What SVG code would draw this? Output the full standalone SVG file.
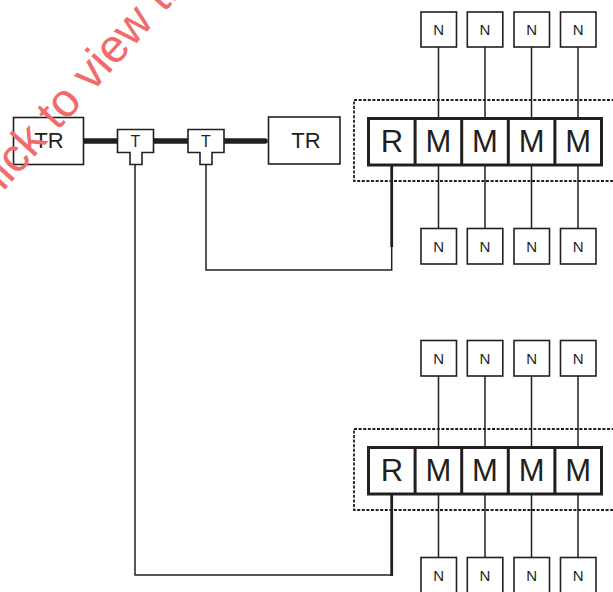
<svg xmlns="http://www.w3.org/2000/svg" width="613" height="592" viewBox="0 0 613 592">
<style>
  .box { fill: #fff; stroke: #231f20; stroke-width: 1.6; }
  .mod { fill: #fff; stroke: #231f20; stroke-width: 3; }
  .dash { fill: none; stroke: #231f20; stroke-width: 1.8; stroke-dasharray: 3 1.6; }
  .wire { fill: none; stroke: #231f20; stroke-width: 1.5; }
  .thick { fill: none; stroke: #231f20; stroke-width: 2.8; }
  .bus { fill: none; stroke: #231f20; stroke-width: 5.5; stroke-linecap: round; }
  text { font-family: "Liberation Sans", Arial, sans-serif; fill: #231f20; text-anchor: middle; }
  .tr { font-size: 22px; }
  .t { font-size: 16px; }
  .n { font-size: 15px; }
  .big { font-size: 31px; }
  .wm { font-size: 47px; fill: #f26b6b; text-anchor: start; }
</style>
<rect width="613" height="592" fill="#fff"/>

<!-- connectors -->
<g id="connectors">
  <path class="wire" d="M438.5,47V118 M485,47V118 M531.5,47V118 M578,47V118"/>
  <path class="wire" d="M438.5,165V228.5 M485,165V228.5 M531.5,165V228.5 M578,165V228.5"/>
  <path class="wire" d="M438.5,376V447 M485,376V447 M531.5,376V447 M578,376V447"/>
  <path class="wire" d="M438.5,494V557.5 M485,494V557.5 M531.5,494V557.5 M578,494V557.5"/>
  <path class="wire" d="M206,164V270H391.7V246"/>
  <path class="thick" d="M391.7,165V247"/>
  <path class="wire" d="M135,164V575H391.7"/>
  <path class="thick" d="M391.7,494V576"/>
</g>

<g id="group1-frame"><rect class="dash" x="354" y="100" width="280" height="81"/></g>
<g id="group2-frame"><rect class="dash" x="354" y="429" width="280" height="81"/></g>

<g id="bus"><path class="bus" d="M84,141H265"/></g>

<g id="tr-left"><rect class="box" x="13.5" y="117.5" width="70" height="47"/><text class="tr" x="49" y="148">TR</text></g>
<g id="tr-right"><rect class="box" x="268.5" y="117" width="71.5" height="47"/><text class="tr" x="306" y="148">TR</text></g>

<g id="t1"><path class="box" d="M117.5,129.5H153.5V152.5H142V164.5H130V152.5H117.5Z"/><text class="t" x="135.5" y="146.5">T</text></g>
<g id="t2"><path class="box" d="M188,129.5H224V152.5H212V164.5H200V152.5H188Z"/><text class="t" x="206" y="146.5">T</text></g>

<g id="row1">
  <rect class="mod" x="368.5" y="118.5" width="233" height="46.5"/>
  <path class="mod" d="M415.1,118.5V165 M461.7,118.5V165 M508.3,118.5V165 M554.9,118.5V165"/>
  <text class="big" x="392" y="151.5">R</text>
  <text class="big" x="438.5" y="151.5">M</text>
  <text class="big" x="485" y="151.5">M</text>
  <text class="big" x="531.6" y="151.5">M</text>
  <text class="big" x="578.2" y="151.5">M</text>
</g>
<g id="row2">
  <rect class="mod" x="368.5" y="447.5" width="233" height="46.5"/>
  <path class="mod" d="M415.1,447.5V494 M461.7,447.5V494 M508.3,447.5V494 M554.9,447.5V494"/>
  <text class="big" x="392" y="480.5">R</text>
  <text class="big" x="438.5" y="480.5">M</text>
  <text class="big" x="485" y="480.5">M</text>
  <text class="big" x="531.6" y="480.5">M</text>
  <text class="big" x="578.2" y="480.5">M</text>
</g>

<g id="n1a"><rect class="box" x="421" y="12" width="35.5" height="35"/><text class="n" x="438.7" y="35">N</text></g>
<g id="n1b"><rect class="box" x="467.3" y="12" width="35.5" height="35"/><text class="n" x="485" y="35">N</text></g>
<g id="n1c"><rect class="box" x="514" y="12" width="35.5" height="35"/><text class="n" x="531.7" y="35">N</text></g>
<g id="n1d"><rect class="box" x="560.5" y="12" width="35.5" height="35"/><text class="n" x="578.2" y="35">N</text></g>
<g id="n2a"><rect class="box" x="421" y="228.5" width="35.5" height="35.5"/><text class="n" x="438.7" y="252">N</text></g>
<g id="n2b"><rect class="box" x="467.3" y="228.5" width="35.5" height="35.5"/><text class="n" x="485" y="252">N</text></g>
<g id="n2c"><rect class="box" x="514" y="228.5" width="35.5" height="35.5"/><text class="n" x="531.7" y="252">N</text></g>
<g id="n2d"><rect class="box" x="560.5" y="228.5" width="35.5" height="35.5"/><text class="n" x="578.2" y="252">N</text></g>
<g id="n3a"><rect class="box" x="421" y="340.5" width="35.5" height="35.5"/><text class="n" x="438.7" y="364">N</text></g>
<g id="n3b"><rect class="box" x="467.3" y="340.5" width="35.5" height="35.5"/><text class="n" x="485" y="364">N</text></g>
<g id="n3c"><rect class="box" x="514" y="340.5" width="35.5" height="35.5"/><text class="n" x="531.7" y="364">N</text></g>
<g id="n3d"><rect class="box" x="560.5" y="340.5" width="35.5" height="35.5"/><text class="n" x="578.2" y="364">N</text></g>
<g id="n4a"><rect class="box" x="421" y="557.5" width="35.5" height="35.5"/><text class="n" x="438.7" y="581">N</text></g>
<g id="n4b"><rect class="box" x="467.3" y="557.5" width="35.5" height="35.5"/><text class="n" x="485" y="581">N</text></g>
<g id="n4c"><rect class="box" x="514" y="557.5" width="35.5" height="35.5"/><text class="n" x="531.7" y="581">N</text></g>
<g id="n4d"><rect class="box" x="560.5" y="557.5" width="35.5" height="35.5"/><text class="n" x="578.2" y="581">N</text></g>

<g id="watermark"><text class="wm" transform="translate(100,84) rotate(-48)" x="-178.9" y="0">Click to view the</text></g>
</svg>
